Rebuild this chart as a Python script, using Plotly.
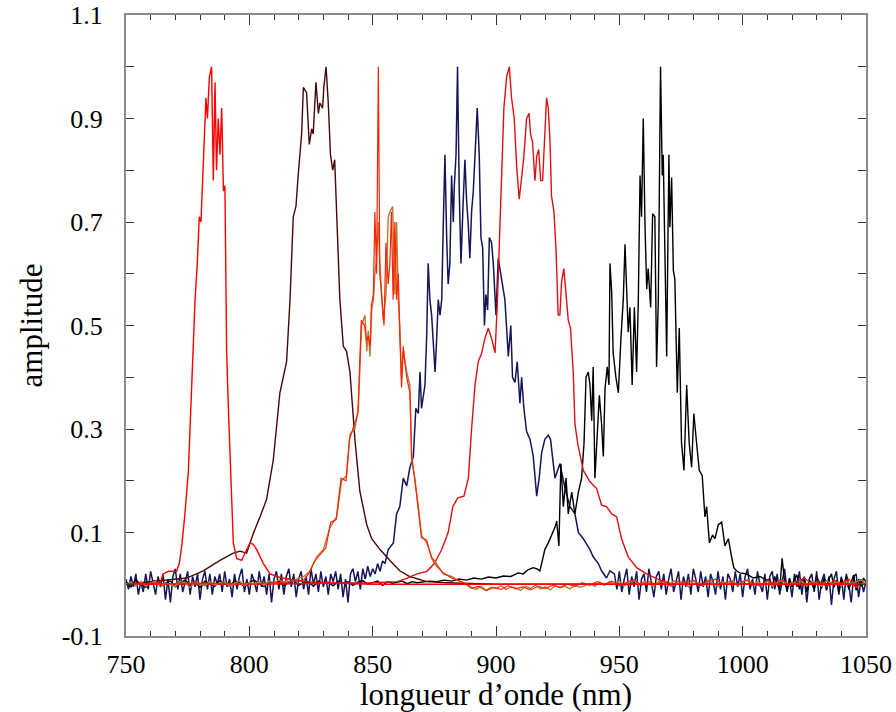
import plotly.graph_objects as go

# ---------------- spectra (wavelength in nm, normalised amplitude) ----------------

# narrow red pulse centred near 785 nm
red785_nm = [750, 755, 760, 764, 765.1, 767.2, 770.5, 771.6, 772.6, 773.9, 775.3, 776.2, 777.0,
             778.0, 778.9, 779.7, 780.4, 781.1, 781.6, 782.4, 783.0, 783.8, 784.7, 785.4, 786.1,
             786.7, 787.4, 788.1, 788.8, 789.5, 790.1, 790.8, 791.5, 792.4, 793.5, 794.9, 796.9,
             798.2, 800.3, 801.6, 803.0, 805.7, 808.4, 812.4, 821.9, 830, 850, 900, 950, 1000, 1050]
red785_amp = [0.0, 0.002, 0.0, 0.005, 0.02, 0.025, 0.025, 0.04, 0.074, 0.136, 0.22, 0.34, 0.44,
              0.55, 0.62, 0.71, 0.70, 0.79, 0.86, 0.94, 0.90, 0.98, 1.0, 0.78, 0.97,
              0.80, 0.90, 0.83, 0.92, 0.76, 0.77, 0.45, 0.34, 0.21, 0.08, 0.05, 0.046,
              0.06, 0.08, 0.077, 0.067, 0.04, 0.02, 0.013, 0.005, 0.003, 0.0, 0.0, 0.0, 0.0, 0.0]

# smooth maroon spectrum centred near 830 nm
maroon_nm = [750, 761.1, 774.6, 781.3, 788.1, 793.5, 796.2, 798.9, 801.6, 804.3, 807.0, 809.7,
             812.4, 815.1, 816.5, 817.8, 818.9, 819.8, 821.2, 821.9, 823.2, 824.3, 825.3, 825.9,
             827.0, 828.0, 828.6, 829.7, 830.2, 831.1, 832.0, 832.9, 833.8, 834.6, 835.4, 836.7,
             838.1, 839.4, 840.8, 842.8, 844.8, 847.6, 849.6, 853.0, 857.0, 861.0, 865.0, 871.9,
             880, 900, 950, 1000, 1050]
maroon_amp = [0.0, 0.005, 0.012, 0.026, 0.046, 0.06, 0.064, 0.06, 0.098, 0.13, 0.164, 0.24,
              0.37, 0.43, 0.55, 0.71, 0.73, 0.79, 0.87, 0.96, 0.95, 0.85, 0.88, 0.87,
              0.97, 0.91, 0.93, 0.92, 0.96, 1.0, 0.93, 0.83, 0.80, 0.82, 0.71, 0.55,
              0.46, 0.45, 0.41, 0.28, 0.18, 0.115, 0.088, 0.067, 0.046, 0.026, 0.015, 0.005,
              0.003, 0.0, 0.0, 0.0, 0.0]

# olive trace of the 855 nm pair
olive_base_nm = list(range(750, 823, 2))
olive_base_amp = [0.0, 0.004, -0.003, 0.005, -0.004, 0.002, 0.006, -0.005, 0.003, 0.0,
                  -0.004, 0.005, 0.002, -0.006, 0.004, 0.001, -0.003, 0.006, -0.002, 0.003,
                  0.005, -0.004, 0.002, 0.006, -0.003, 0.004, 0.0, 0.005, -0.002, 0.006,
                  0.003, 0.008, 0.004, 0.01, 0.007, 0.012, 0.015]
olive_peak_nm = [824.6, 827.3, 830.0, 832.7, 835.4, 837.4, 839.4, 840.8, 842.8, 844.2, 845.5,
                 846.9, 847.6, 848.2, 848.9, 849.6, 850.3, 850.9, 851.6, 852.3, 852.9, 854.3,
                 855.4, 856.3, 857.0, 858.1, 859.0, 859.7, 860.4, 861.0, 861.7, 862.4, 863.8,
                 865.1, 865.8, 867.1, 868.5, 869.8, 871.9, 873.9, 875.9, 878.6, 882.0, 885.4]
olive_peak_amp = [0.025, 0.053, 0.067, 0.11, 0.13, 0.2, 0.21, 0.29, 0.30, 0.34, 0.50,
                  0.52, 0.45, 0.49, 0.44, 0.53, 0.55, 0.60, 0.63, 0.70, 0.62, 0.51,
                  0.56, 0.71, 0.72, 0.73, 0.56, 0.70, 0.55, 0.50, 0.40, 0.45, 0.41,
                  0.385, 0.24, 0.205, 0.143, 0.095, 0.08, 0.053, 0.04, 0.02, 0.015, 0.005]
olive_tail_nm = list(range(888, 1051, 2))
olive_tail_amp = [0.002, -0.006, -0.01, -0.004, -0.012, -0.006, -0.008, -0.003, -0.01, -0.005,
                  -0.007, -0.012, -0.004, -0.008, -0.002, -0.009, -0.005, -0.011, -0.003, -0.007,
                  -0.004, -0.009, -0.002, -0.006, -0.003, 0.002, -0.004, 0.004, -0.002, 0.005,
                  0.0, 0.006, -0.003, 0.004, 0.008, -0.002, 0.005, 0.001, -0.004, 0.006,
                  0.003, -0.003, 0.007, 0.0, 0.004, -0.005, 0.006, 0.002, -0.002, 0.008,
                  0.001, -0.004, 0.005, 0.0, 0.007, -0.003, 0.004, 0.009, -0.002, 0.005,
                  0.0, 0.006, -0.004, 0.003, 0.008, -0.002, 0.004, 0.0, 0.006, -0.003,
                  0.005, 0.002, -0.004, 0.007, 0.001, 0.004, -0.003, 0.006, 0.0, 0.005,
                  0.008, 0.003]

# red trace of the 855 nm pair (sharp line at 852 nm)
red852_nm = [750, 780, 800, 815, 822, 824, 826.5, 829, 831, 833, 835.2, 837.2, 839.2, 840.6,
             842.6, 844, 845.4, 846.7, 847.5, 848.3, 849, 849.5, 850.3, 850.9, 851.6, 852.3,
             852.9, 853.7, 854.6, 855.4, 856.3, 857, 857.6, 858.3, 859, 859.7, 860.4, 861,
             861.7, 862.4, 863.8, 865.1, 865.8, 867.1, 868.5, 869.8, 871.9, 873.9, 875.9,
             878.6, 882, 885.4]
red852_amp = [0.0, 0.002, 0.0, 0.004, 0.008, 0.02, 0.045, 0.06, 0.07, 0.12, 0.125, 0.205, 0.2, 0.28,
              0.31, 0.33, 0.51, 0.5, 0.47, 0.48, 0.46, 0.54, 0.56, 0.72, 0.60, 1.0,
              0.60, 0.55, 0.50, 0.66, 0.58, 0.62, 0.72, 0.55, 0.70, 0.55, 0.60, 0.48,
              0.38, 0.46, 0.40, 0.37, 0.25, 0.2, 0.15, 0.09, 0.085, 0.05, 0.035,
              0.022, 0.012, 0.006]
red852_tail_nm = list(range(887, 1051, 3))
red852_tail_amp = [0.003, -0.008, -0.004, -0.012, -0.006, -0.01, -0.003, -0.009, -0.005, -0.011,
                   -0.004, -0.008, -0.002, -0.006, 0.0, -0.004, 0.003, -0.002, 0.005, 0.0,
                   0.006, -0.003, 0.004, 0.009, -0.002, 0.005, 0.0, 0.007, -0.004, 0.006,
                   0.002, 0.008, -0.003, 0.005, 0.01, 0.0, 0.006, -0.002, 0.008, 0.003,
                   -0.004, 0.007, 0.002, 0.009, -0.003, 0.005, 0.012, 0.0, 0.006, -0.005,
                   0.008, 0.002, 0.01, -0.006, 0.004]

# noisy navy spectrum centred near 885 nm
navy_left_nm = list(range(750, 856))
navy_left_amp = [0.01, -0.01, 0.015, -0.005, 0.02, -0.02, 0.005, -0.015, 0.02, -0.01,
                 0.025, 0.0, -0.02, 0.015, -0.005, 0.02, -0.03, 0.01, -0.035, 0.015,
                 0.03, -0.01, 0.02, -0.015, 0.005, 0.025, -0.02, 0.015, -0.005, 0.02,
                 -0.03, 0.01, 0.025, -0.01, 0.02, -0.02, 0.015, 0.0, 0.02, -0.015,
                 0.025, -0.005, 0.01, -0.025, 0.02, -0.01, 0.015, 0.03, -0.015, 0.01,
                 -0.02, 0.02, 0.005, -0.015, 0.025, -0.005, 0.015, -0.02, 0.02, -0.035,
                 0.01, 0.025, -0.01, 0.02, -0.02, 0.015, 0.03, -0.005, 0.02, -0.025,
                 0.01, 0.025, -0.01, 0.015, -0.02, 0.03, 0.0, 0.02, -0.015, 0.025,
                 -0.005, 0.015, -0.02, 0.02, 0.005, 0.025, -0.01, 0.02, -0.025, 0.01,
                 -0.035, 0.02, 0.03, 0.005, 0.025, -0.01, 0.03, 0.01, 0.035, 0.015,
                 0.03, 0.02, 0.04, 0.025, 0.045, 0.04]
navy_peak_nm = [856.3, 858.4, 859.7, 861.0, 862.4, 863.8, 865.1, 866.5, 867.5, 868.5, 869.2,
                869.8, 871.2, 871.9, 872.5, 873.2, 873.9, 874.6, 875.3, 875.9, 876.6, 877.3,
                878.0, 878.6, 879.3, 880.0, 880.6, 881.3, 882.0, 882.7, 883.1, 883.8, 884.4,
                885.1, 885.8, 886.7, 887.4, 888.1, 888.7, 889.4, 890.1, 890.8, 891.7, 892.4,
                893.2, 893.9, 894.6, 895.3, 895.9, 896.6, 897.3, 898.2, 898.9, 900.0, 900.9,
                902.3, 903.6, 905.0, 906.0, 906.7, 907.7, 908.6, 909.7, 910.4, 911.3, 912.4,
                913.8, 915.1, 915.8, 916.5, 917.5, 918.5, 919.8, 921.2, 922.1, 923.9, 925.9,
                928.0, 930.0, 932.0, 933.4, 935.4, 938.1, 939.4, 941.5, 942.8, 944.8, 946.2]
navy_peak_amp = [0.067, 0.08, 0.136, 0.15, 0.205, 0.19, 0.226, 0.247, 0.34, 0.33, 0.41,
                 0.34, 0.385, 0.48, 0.62, 0.55, 0.52, 0.45, 0.41, 0.47, 0.55, 0.52,
                 0.55, 0.69, 0.83, 0.67, 0.58, 0.62, 0.79, 0.70, 0.77, 0.83, 1.0,
                 0.76, 0.62, 0.74, 0.82, 0.74, 0.70, 0.63, 0.72, 0.76, 0.84, 0.92,
                 0.83, 0.67, 0.65, 0.50, 0.56, 0.53, 0.67, 0.66, 0.62, 0.52, 0.63,
                 0.59, 0.55, 0.44, 0.50, 0.40, 0.39, 0.43, 0.35, 0.40, 0.34, 0.295,
                 0.28, 0.247, 0.205, 0.17, 0.205, 0.254, 0.28, 0.288, 0.28, 0.205, 0.233,
                 0.185, 0.15, 0.136, 0.10, 0.088, 0.067, 0.053, 0.04, 0.026, 0.012, 0.026]
navy_right_nm = list(range(948, 1051))
navy_right_amp = [0.02, -0.01, 0.025, -0.015, 0.01, 0.03, -0.02, 0.015, -0.005, 0.025,
                  -0.03, 0.01, 0.02, -0.015, 0.03, 0.0, -0.025, 0.015, 0.025, -0.01,
                  0.02, -0.02, 0.01, 0.03, -0.015, 0.005, 0.025, -0.03, 0.015, -0.005,
                  0.02, -0.02, 0.03, 0.01, -0.015, 0.025, -0.005, 0.015, -0.025, 0.02,
                  0.005, -0.02, 0.025, -0.01, 0.015, -0.03, 0.02, 0.01, -0.015, 0.025,
                  -0.005, 0.02, -0.025, 0.015, 0.03, -0.01, 0.01, -0.02, 0.025, 0.0,
                  -0.015, 0.02, -0.03, 0.015, 0.025, -0.01, 0.02, -0.02, 0.005, 0.03,
                  -0.015, 0.01, -0.025, 0.02, -0.005, 0.025, -0.02, 0.015, -0.035, 0.01,
                  0.02, -0.015, 0.025, -0.03, 0.005, 0.02, -0.01, 0.015, -0.04, 0.01,
                  0.025, -0.02, 0.015, -0.03, 0.02, 0.0, -0.035, 0.015, 0.02, -0.025,
                  0.01, -0.015, 0.005]

# smooth red spectrum centred near 905 nm
red905_nm = [750, 800, 850, 860, 864, 868, 872, 875, 878, 880.6, 882.5, 884.5, 887.0, 888.8,
             890.1, 891.5, 892.8, 894.2, 895.5, 896.9, 898.2, 899.6, 900.5, 901.3, 902.3, 903.2,
             904.3, 905.4, 906.3, 907.4, 908.4, 909.4, 910.4, 911.3, 912.4, 913.4, 914.0,
             914.8, 915.8, 916.5, 917.3, 918.1, 918.9, 919.7, 920.5, 921.2, 921.9, 922.5,
             923.5, 924.3, 925.2, 925.9, 926.6, 927.5, 928.4, 929.3, 930.2, 931.3, 932.0,
             933.2, 935.4, 938.1, 940.8, 942.8, 944.8, 946.9, 948.9, 950.9, 953.6, 957.0,
             961.0, 966.5, 971.9, 1000, 1050]
red905_amp = [0.0, 0.0, 0.003, 0.005, 0.012, 0.02, 0.025, 0.04, 0.067, 0.10, 0.15, 0.167, 0.17, 0.205,
              0.30, 0.385, 0.43, 0.447, 0.475, 0.495, 0.475, 0.447, 0.537, 0.65, 0.79, 0.92,
              0.98, 1.0, 0.94, 0.90, 0.806, 0.744, 0.786, 0.827, 0.90, 0.91, 0.87,
              0.855, 0.78, 0.827, 0.84, 0.78, 0.78, 0.876, 0.94, 0.92, 0.855, 0.75,
              0.72, 0.65, 0.52, 0.52, 0.585, 0.61, 0.565, 0.51, 0.495, 0.41, 0.31,
              0.27, 0.22, 0.198, 0.185, 0.153, 0.15, 0.136, 0.13, 0.088, 0.053, 0.032,
              0.02, 0.008, 0.0, 0.0, 0.0]

# noisy black spectrum centred near 967 nm
black_left_nm = list(range(750, 871, 2))
black_left_amp = [0.005, -0.005, 0.008, 0.0, -0.006, 0.004, 0.007, -0.004, 0.002, 0.006,
                  -0.005, 0.003, 0.008, -0.002, 0.004, -0.006, 0.006, 0.001, -0.004, 0.007,
                  0.002, -0.003, 0.006, 0.004, -0.005, 0.003, 0.008, 0.0, -0.004, 0.005,
                  0.002, 0.006, -0.003, 0.004, 0.007, -0.002, 0.003, 0.005, -0.004, 0.006,
                  0.001, 0.004, -0.003, 0.006, 0.002, 0.005, -0.002, 0.004, 0.007, 0.0,
                  0.003, 0.006, -0.002, 0.005, 0.002, 0.004, 0.006, 0.001, 0.005, 0.003,
                  0.004]
black_peak_nm = [873, 876, 879, 882, 885, 888, 891, 894, 897, 900, 903, 906, 909, 911, 913, 915,
                 916.5, 917.8, 919.8, 921.2, 922.5, 923.9, 924.6, 925.5, 926.3, 927.3, 928.4,
                 929.3, 930.7, 932.0, 933.4, 934.7, 935.7, 936.5, 937.4, 938.1, 938.8, 939.4,
                 940.1, 940.8, 941.9, 942.8, 943.5, 944.2, 945.1, 945.8, 946.2, 946.9, 947.5,
                 948.6, 949.6, 950.7, 951.6, 952.3, 952.9, 953.6, 954.3, 955.2, 956.1, 957.0,
                 957.7, 958.4, 959.0, 959.7, 960.4, 961.1, 961.7, 962.7, 963.5, 964.4, 965.1,
                 965.8, 966.7, 967.4, 967.8, 968.4, 969.2, 969.6, 970.1, 970.5, 971.2, 971.9,
                 972.5, 973.5, 974.3, 975.2, 976.2, 977.3, 978.3, 979.3, 980.2, 981.3, 982.4,
                 983.6, 984.7, 985.4, 986.5, 987.8, 988.8, 990.1, 991.5, 992.8, 994.2, 995.5,
                 996.4, 997.5, 998.9, 1001.6, 1004.3, 1007.0, 1009.7]
black_peak_amp = [0.006, 0.005, 0.008, 0.006, 0.01, 0.008, 0.012, 0.01, 0.014, 0.012, 0.016,
                  0.015, 0.022, 0.02, 0.028, 0.032, 0.03, 0.026, 0.067, 0.08, 0.095, 0.11,
                  0.122, 0.074, 0.233, 0.15, 0.205, 0.136, 0.178, 0.136, 0.178, 0.205, 0.274,
                  0.40, 0.41, 0.385, 0.316, 0.42, 0.205, 0.274, 0.365, 0.31, 0.247, 0.378,
                  0.42, 0.385, 0.62, 0.565, 0.447, 0.40, 0.37, 0.48, 0.55, 0.657, 0.565,
                  0.487, 0.535, 0.385, 0.535, 0.41, 0.55, 0.79, 0.71, 0.90, 0.695, 0.57,
                  0.61, 0.535, 0.716, 0.71, 0.42, 0.55, 1.0, 0.79, 0.83, 0.62, 0.44, 0.62,
                  0.83, 0.69, 0.786, 0.606, 0.59, 0.37, 0.495, 0.274, 0.22, 0.385, 0.274,
                  0.226, 0.33, 0.274, 0.22, 0.21, 0.13, 0.15, 0.08, 0.095, 0.088, 0.115,
                  0.12, 0.074, 0.088, 0.053, 0.032, 0.026, 0.022, 0.02, 0.012, 0.015, 0.008]
black_right_nm = list(range(1011, 1051))
black_right_amp = [0.01, -0.008, 0.015, 0.0, -0.01, 0.05, 0.005, -0.012, 0.012, -0.005,
                   0.01, 0.018, -0.01, 0.006, 0.014, -0.015, 0.008, 0.002, -0.01, 0.016,
                   0.004, -0.008, 0.012, -0.012, 0.01, 0.02, -0.006, 0.008, -0.015, 0.012,
                   0.0, 0.014, -0.01, 0.006, 0.018, -0.012, 0.01, -0.004, 0.012, 0.005]

# axis ticks
x_ticks = [750, 800, 850, 900, 950, 1000, 1050]
y_ticks = [-0.1, 0.1, 0.3, 0.5, 0.7, 0.9, 1.1]
y_tick_text = ["-0.1", "0.1", "0.3", "0.5", "0.7", "0.9", "1.1"]

# ---------------- figure ----------------
series = [
    ("navy", navy_left_nm + navy_peak_nm + navy_right_nm,
     navy_left_amp + navy_peak_amp + navy_right_amp, "#15155a", 1.5),
    ("black", black_left_nm + black_peak_nm + black_right_nm,
     black_left_amp + black_peak_amp + black_right_amp, "#000000", 1.4),
    ("maroon", maroon_nm, maroon_amp, "#4a0606", 1.4),
    ("red905", red905_nm, red905_amp, "#e01010", 1.4),
    ("olive", olive_base_nm + olive_peak_nm + olive_tail_nm,
     olive_base_amp + olive_peak_amp + olive_tail_amp, "#b57b34", 1.4),
    ("red852", red852_nm + red852_tail_nm, red852_amp + red852_tail_amp, "#ff2200", 1.2),
    ("red785", red785_nm, red785_amp, "#ff0000", 1.4),
]

fig = go.Figure()
for name, xs, ys, color, width in series:
    fig.add_trace(go.Scatter(x=xs, y=ys, mode="lines", name=name,
                             line=dict(color=color, width=width), hoverinfo="skip"))

serif = "Liberation Serif, Times New Roman, serif"
axis_common = dict(
    showline=True, linecolor="#8c8c8c", linewidth=2, mirror="ticks",
    ticks="inside", tickcolor="#333333", tickwidth=1,
    showgrid=False, zeroline=False, automargin=False,
    tickfont=dict(family=serif, size=26, color="#000000"),
)

fig.update_layout(
    width=896, height=712,
    margin=dict(l=126, r=30, t=15, b=76),
    paper_bgcolor="white", plot_bgcolor="white",
    showlegend=False,
    xaxis=dict(
        range=[750, 1050], tickvals=x_ticks, ticklen=10,
        minor=dict(dtick=10, tick0=750, ticks="inside", ticklen=5, tickcolor="#333333"),
        ticklabelstandoff=4,
        title=dict(text="longueur d’onde (nm)", font=dict(family=serif, size=31, color="#000"),
                   standoff=8),
        **axis_common,
    ),
    yaxis=dict(
        range=[-0.1, 1.1], tickvals=y_ticks, ticktext=y_tick_text,
        ticklen=8,
        minor=dict(dtick=0.1, tick0=-0.1, ticks="inside", ticklen=8, tickcolor="#333333"),
        ticklabelstandoff=16,
        title=dict(text="amplitude", font=dict(family=serif, size=31, color="#000"), standoff=10),
        **axis_common,
    ),
)

fig.write_html("out.html")
